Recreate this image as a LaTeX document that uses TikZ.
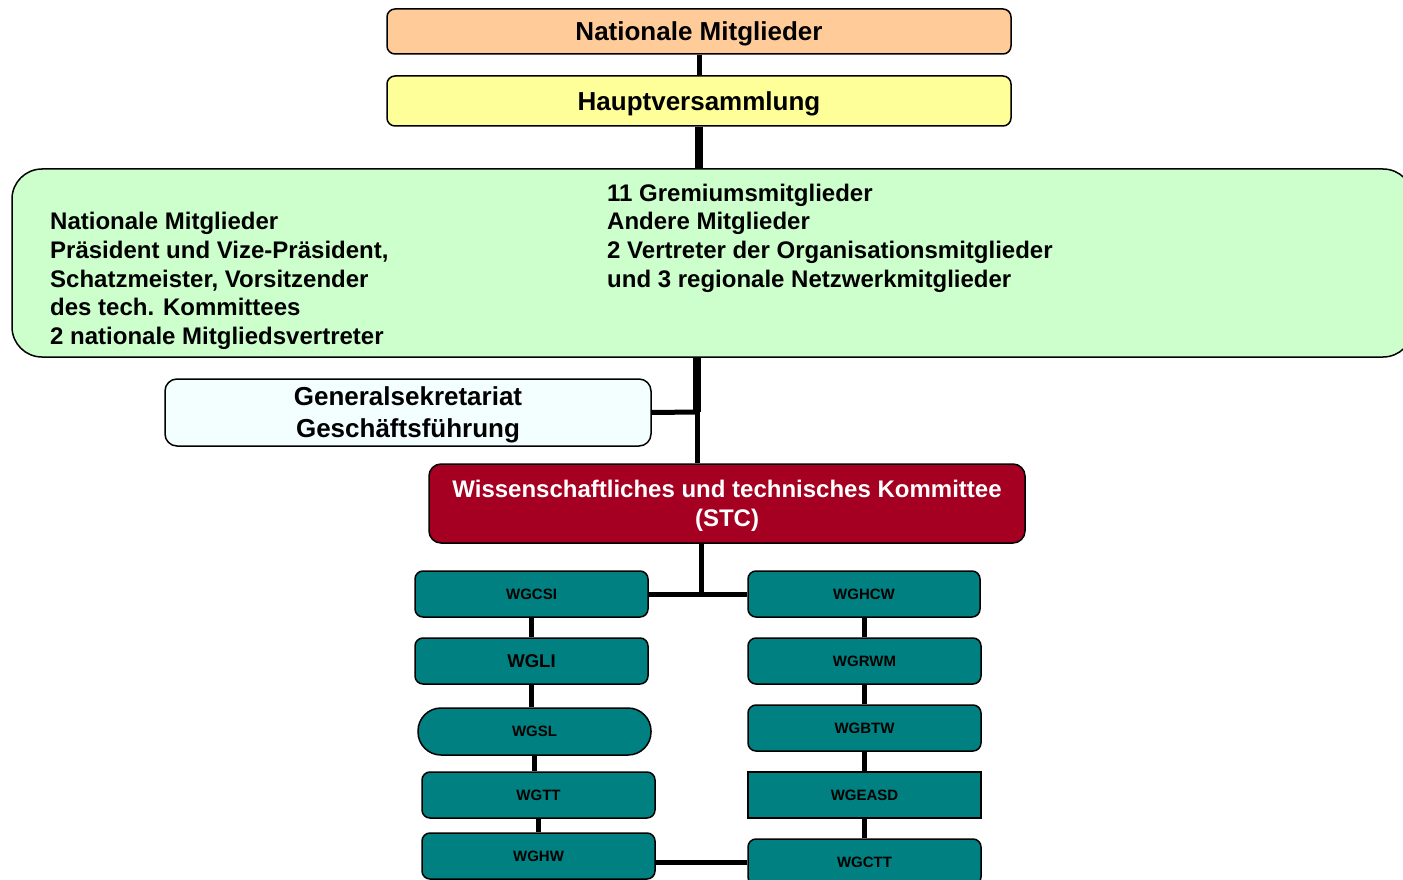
\documentclass[tikz,border=0pt]{standalone}
\usepackage{fontspec}
\setmainfont{Liberation Sans}
\usetikzlibrary{calc}
\definecolor{peach}{HTML}{FFCC99}
\definecolor{paleyellow}{HTML}{FFFF99}
\definecolor{palegreen}{HTML}{CCFFCC}
\definecolor{paleazure}{HTML}{F3FFFF}
\definecolor{stcred}{HTML}{A50021}
\definecolor{wgteal}{HTML}{008080}
\tikzset{
  box/.style={draw=black, line width=1.5pt, rounded corners=8pt, inner sep=0pt, align=center, text depth=0pt},
  wg/.style={box, fill=wgteal, minimum width=233pt, minimum height=46pt, font=\bfseries\fontsize{15}{18}\selectfont},
  link/.style={line width=5pt},
  boldlink/.style={line width=8pt}
}
\begin{document}
\begin{tikzpicture}[x=1pt,y=-1pt]
		\useasboundingbox (0,0) rectangle (1403,880);
		%%%%% START %%%%%
		\node[box, fill=peach, minimum width=624pt, minimum height=45pt, font=\bfseries\fontsize{26}{31}\selectfont] (nat) at (699, 31.5) {Nationale Mitglieder};
		\node[box, fill=paleyellow, minimum width=624pt, minimum height=50pt, font=\bfseries\fontsize{26}{31}\selectfont] (hv) at (699, 101) {Hauptversammlung};
		
		\node[box, fill=palegreen, rounded corners=30pt, minimum width=1401pt, minimum height=188pt] (gremium) at (712.5, 263) {};
		\node[anchor=west, align=left, inner sep=0pt, font=\bfseries\fontsize{24}{28.7}\selectfont] (natlist) at (50, 281) {Nationale Mitglieder\\Präsident und Vize-Präsident,\\Schatzmeister, Vorsitzender\\des tech. Kommittees\\2 nationale Mitgliedsvertreter};
		\node[anchor=west, align=left, inner sep=0pt, font=\bfseries\fontsize{24}{28.7}\selectfont] (andlist) at (607, 238) {11 Gremiumsmitglieder\\Andere Mitglieder\\2 Vertreter der Organisationsmitglieder\\und 3 regionale Netzwerkmitglieder};
		
		\node[box, fill=paleazure, rounded corners=12pt, minimum width=486pt, minimum height=67pt, font=\bfseries\fontsize{26}{32}\selectfont] (gen) at (408, 412.5) {Generalsekretariat\\Geschäftsführung};
		\node[box, fill=stcred, text=white, rounded corners=12pt, minimum width=596pt, minimum height=79pt, font=\bfseries\fontsize{24}{29}\selectfont] (stc) at (727, 503.5) {Wissenschaftliches und technisches Kommittee\\(STC)};
		
		\node[wg] (wgcsi) at (531.5, 594) {WGCSI};
		\node[wg, font=\bfseries\fontsize{18.5}{22}\selectfont] (wgli) at (531.5, 661) {WGLI};
		\node[wg, rounded corners=23pt, minimum height=47pt] (wgsl) at (534.5, 731.5) {WGSL};
		\node[wg] (wgtt) at (538.5, 795) {WGTT};
		\node[wg] (wghw) at (538.5, 856) {WGHW};
		
		\node[wg, minimum width=232pt] (wghcw) at (864, 594) {WGHCW};
		\node[wg] (wgrwm) at (864.5, 661) {WGRWM};
		\node[wg] (wgbtw) at (864.5, 728) {WGBTW};
		\node[wg, sharp corners] (wgeasd) at (864.5, 795) {WGEASD};
		\node[wg] (wgctt) at (864.5, 862) {WGCTT};
		
		\coordinate (jn) at (697, 412);
		\coordinate (wgj) at (701, 594);
		
		\draw[link] (nat.south) -- (hv.north);
		\draw[boldlink] (hv.south) -- (hv.south |- gremium.north);
		\draw[boldlink] (gremium.south -| jn) -- (jn);
		\draw[link] (jn) -- (jn |- stc.north);
		\draw[link] (gen.east) -- (jn);
		
		\draw[link] (stc.south -| wgj) -- (wgj);
		\draw[link] (wgcsi.east) -- (wghcw.west);
		\foreach \a/\b in {wgcsi/wgli, wgli/wgsl, wgsl/wgtt, wgtt/wghw, wghcw/wgrwm, wgrwm/wgbtw, wgbtw/wgeasd, wgeasd/wgctt}
			\draw[link] (\a.south) -- (\a.south |- \b.north);
		\draw[link] (wgctt.west) -- (wgctt.west -| wghw.east);
		%%%%% END %%%%%
\end{tikzpicture}
\end{document}
